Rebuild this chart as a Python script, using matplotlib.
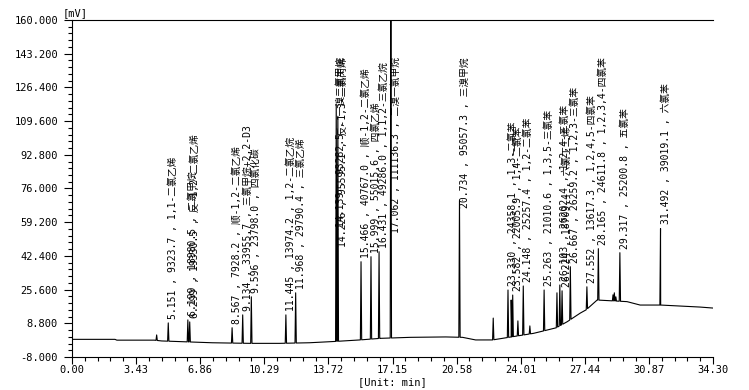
import numpy as np
import matplotlib
matplotlib.use('Agg')
import matplotlib.pyplot as plt
from matplotlib.ticker import MultipleLocator, AutoMinorLocator, FormatStrFormatter

plt.rcParams['font.family'] = ['DejaVu Sans Mono', 'Noto Sans CJK SC']

# baseline of the trace (min, mV)
base_t = [0, 2.3, 2.4, 4.4, 4.8, 7.5, 9.5, 11.1, 12.7, 13.8, 15.4, 16.5, 18.1,
          20.0, 20.9, 21.6, 22.5, 23.5, 24.7, 25.9, 26.5, 27.2, 27.5, 28.1,
          29.7, 30.4, 31.5, 33.6, 34.3]
base_v = [0.8, 0.8, 0.4, 0.4, 0.0, -0.9, -1.2, -1.2, -0.9, -0.4, 0.5, 1.3, 1.8,
          2.0, 1.8, 0.5, 0.5, 2.0, 3.8, 6.5, 9.6, 13.9, 15.4, 20.4,
          19.6, 17.9, 17.9, 16.9, 16.4]

# labelled peaks: retention time, apex (mV), label
rt = [5.151, 6.199, 6.299, 8.567, 9.134, 9.596, 11.445, 11.968, 14.139, 14.226,
      15.466, 15.999, 16.431, 17.062, 20.734, 23.330, 23.582, 24.148, 25.263,
      26.103, 26.224, 26.667, 27.552, 28.165, 29.317, 31.492]
apex = [9.0, 10.5, 9.5, 6.6, 13.0, 22.0, 13.0, 24.0, 118.0, 112.0,
        39.5, 42.0, 44.5, 175.0, 70.0, 25.4, 22.9, 27.4, 25.4,
        27.9, 25.0, 37.0, 27.0, 46.0, 44.0, 56.0]
area = ['9323.7', '18980.5', '19330.5', '7928.2', '33955.7', '23798.0', '13974.2',
        '29790.4', '93282.5', '95595.1', '40767.0', '55015.6', '49286.0',
        '111136.3', '95057.3', '24358.1', '22005.9', '25257.4', '21010.6',
        '26202.4', '18709.4', '26259.2', '13617.3', '24611.8', '25200.8', '39019.1']
names = ['1,1-二氯乙烯', '二氯甲烷', '反-1,2-二氯乙烯', '顺-1,2-二氯乙烯',
         '三氯甲烷+2,2-D3', '四氯化碳', '1,2-二氯乙烷', '三氯乙烯', '一溴二氯甲烷',
         '反-1,3-二氯丙烯', '顺-1,2-二氯乙烯', '四氯乙烯', '1,1,2-三氯乙烷',
         '二溴一氯甲烷', '三溴甲烷', '1,3-二氯苯', '1,4-二氯苯', '1,2-二氯苯',
         '1,3,5-三氯苯', '1,2,4-三氯苯', '六氯丁二烯', '1,2,3-三氯苯',
         '1,2,4,5-四氯苯', '1,2,3,4-四氯苯', '五氯苯', '六氯苯']

# small peaks without labels
small_rt = [4.53, 22.54, 23.50, 23.86, 24.50, 25.95, 28.95, 29.02, 29.10]
small_apex = [3.0, 11.4, 20.4, 10.0, 7.5, 24.0, 23.0, 24.0, 22.0]

# build trace: baseline knots plus a narrow spike per peak
hw = 0.035
px, py = list(base_t), list(base_v)
for t, h in zip(rt + small_rt, apex + small_apex):
    for tt in (t - hw, t + hw):
        px.append(tt)
        py.append(float(np.interp(tt, base_t, base_v)))
    px.append(t)
    py.append(h)
order = np.argsort(px, kind='stable')
px = np.array(px)[order]
py = np.array(py)[order]

fig = plt.figure(figsize=(7.49, 3.90), dpi=100)
ax = fig.add_axes([72 / 749, 1 - 357 / 390, 641 / 749, 337 / 390])
ax.plot(px, py, color='black', lw=0.8)

ax.set_xlim(0, 34.30)
ax.set_ylim(-8.0, 160.0)
ax.xaxis.set_major_locator(MultipleLocator(3.43))
ax.yaxis.set_major_locator(MultipleLocator(16.8, offset=-8.0))
ax.xaxis.set_minor_locator(AutoMinorLocator(5))
ax.yaxis.set_minor_locator(AutoMinorLocator(5))
ax.xaxis.set_major_formatter(FormatStrFormatter('%.2f'))
ax.yaxis.set_major_formatter(FormatStrFormatter('%.3f'))
ax.spines['right'].set_visible(False)
for s in ax.spines.values():
    s.set_linewidth(0.8)
ax.tick_params(which='major', length=5, width=0.8, labelsize=7.5, pad=1)
ax.tick_params(axis='y', which='major', length=6, pad=4)
ax.tick_params(which='minor', length=3, width=0.8)
ax.set_xlabel('[Unit: min]', fontsize=7.5, labelpad=1)
ax.annotate('[mV]', xy=(0, 1), xycoords='axes fraction', xytext=(2, 5),
            textcoords='offset points', ha='center', va='center', fontsize=7.5)

labels = []
for t, h, a, n in zip(rt, apex, area, names):
    s = '%.3f , %s , %s' % (t, a, n)
    an = ax.annotate(s, xy=(t, h), xytext=(0, 3), textcoords='offset points',
                     rotation=90, ha='left', va='bottom', fontsize=7,
                     annotation_clip=False)
    labels.append(an)

# keep the labels inside the plot: push long ones down
fig.canvas.draw()
r = fig.canvas.get_renderer()
top_px = ax.transData.transform((0, 141.5))[1]
for an in labels:
    bb = an.get_window_extent(r)
    if bb.y1 > top_px:
        x, y = an.xy
        ypx = ax.transData.transform((x, y))[1] - (bb.y1 - top_px)
        an.xy = (x, ax.transData.inverted().transform((0, ypx))[1])

fig.savefig('out.png', dpi=100)
